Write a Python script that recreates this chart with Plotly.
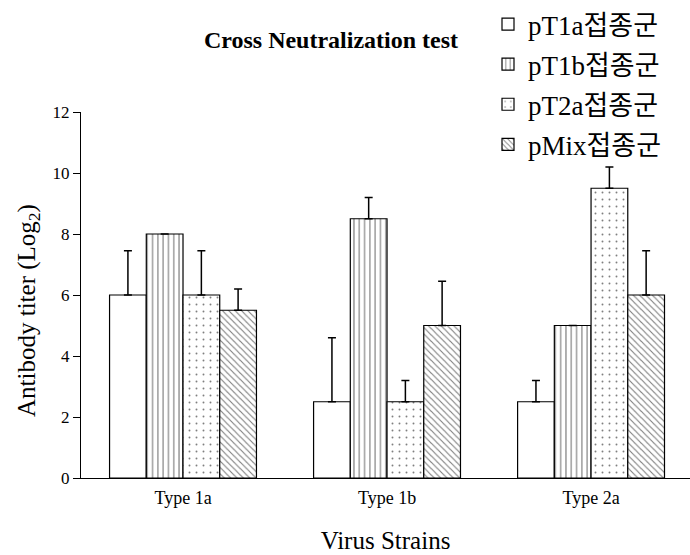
import plotly.graph_objects as go

categories = ["Type 1a", "Type 1b", "Type 2a"]
series_names = ["pT1a접종군", "pT1b접종군", "pT2a접종군", "pMix접종군"]
pT1a = [6.0, 2.5, 2.5]
pT1a_err = [1.45, 2.1, 0.7]
pT1b = [8.0, 8.5, 5.0]
pT1b_err = [0.0, 0.7, 0.0]
pT2a = [6.0, 2.5, 9.5]
pT2a_err = [1.45, 0.7, 0.7]
pMix = [5.5, 5.0, 6.0]
pMix_err = [0.7, 1.45, 1.45]

values = [pT1a, pT1b, pT2a, pMix]
errors = [pT1a_err, pT1b_err, pT2a_err, pMix_err]
patterns = [
    dict(shape=""),
    dict(shape="|", size=5.3, solidity=0.22, fgcolor="black", bgcolor="white", fillmode="overlay"),
    dict(shape=".", size=7, solidity=0.06, fgcolor="black", bgcolor="white", fillmode="overlay"),
    dict(shape="\\", size=4.5, solidity=0.25, fgcolor="black", bgcolor="white", fillmode="overlay"),
]

serif = "Liberation Serif, Times New Roman, serif"
kr = "Liberation Serif, Noto Sans CJK KR, serif"

fig = go.Figure()
for i, (name, v, e, p) in enumerate(zip(series_names, values, errors, patterns)):
    fig.add_trace(go.Bar(
        x=categories, y=v, name=name, legendgroup=f"g{i}",
        marker=dict(color="white", line=dict(color="black", width=1.2), pattern=p),
        error_y=dict(type="data", symmetric=False, array=e, arrayminus=[0] * len(e),
                     color="black", thickness=1.5, width=4),
    ))

fig.add_annotation(
    text="Antibody titer (Log<sub>2</sub>)", textangle=-90,
    xref="paper", yref="paper", x=(28 - 81) / 609, y=(478 - 311) / 366,
    xanchor="center", yanchor="middle", showarrow=False,
    font=dict(family=serif, size=25, color="black"),
)

fig.update_layout(
    width=690, height=555,
    margin=dict(l=81, r=0, t=112, b=77, autoexpand=False),
    paper_bgcolor="white", plot_bgcolor="white",
    barmode="group", bargap=0.28, bargroupgap=0,
    title=dict(text="<b>Cross Neutralization test</b>", x=331 / 690, xanchor="center",
               y=1 - 40 / 555, yanchor="middle", font=dict(family=serif, size=24, color="black")),
    legend=dict(xref="container", yref="container", x=488 / 690, y=1.016, xanchor="left", yanchor="top",
                font=dict(family=kr, size=27, color="black"), tracegroupgap=2,
                bgcolor="rgba(0,0,0,0)"),
    xaxis=dict(range=[-0.5, 2.485], showline=True, linecolor="black", linewidth=1.2,
               ticks="", showgrid=False, zeroline=False,
               tickfont=dict(family=serif, size=18, color="black"), ticklabelstandoff=3,
               title=dict(text="Virus Strains", font=dict(family=serif, size=25, color="black"), standoff=24)),
    yaxis=dict(range=[0, 12], dtick=2, showline=True, linecolor="black", linewidth=1.2,
               ticks="outside", ticklen=7, tickcolor="black", showgrid=False, zeroline=False,
               tickfont=dict(family=serif, size=17, color="black")),
)

fig.write_html("out.html")
